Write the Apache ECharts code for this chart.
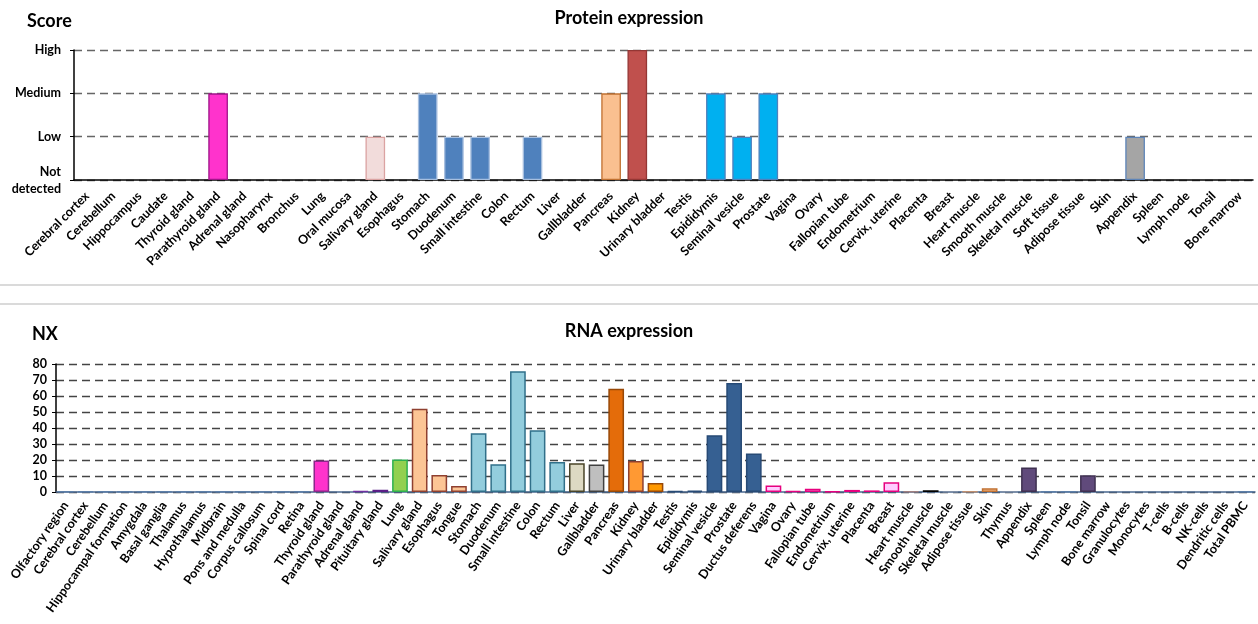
<!DOCTYPE html>
<html>
<head>
<meta charset="utf-8">
<script src="https://cdn.jsdelivr.net/npm/echarts@6/dist/echarts.min.js"></script>
<style>
html,body{margin:0;padding:0;background:#fff;}
#main{width:1258px;height:624px;}
</style>
</head>
<body>
<div id="main"></div>
<script>
// 蛋白表达 (top)
var proteinTissues=["Cerebral cortex","Cerebellum","Hippocampus","Caudate","Thyroid gland","Parathyroid gland","Adrenal gland","Nasopharynx","Bronchus","Lung","Oral mucosa","Salivary gland","Esophagus","Stomach","Duodenum","Small intestine","Colon","Rectum","Liver","Gallbladder","Pancreas","Kidney","Urinary bladder","Testis","Epididymis","Seminal vesicle","Prostate","Vagina","Ovary","Fallopian tube","Endometrium","Cervix, uterine","Placenta","Breast","Heart muscle","Smooth muscle","Skeletal muscle","Soft tissue","Adipose tissue","Skin","Appendix","Spleen","Lymph node","Tonsil","Bone marrow"];
var proteinScore=[0,0,0,0,0,2,0,0,0,0,0,1,0,2,1,1,0,1,0,0,2,3,0,0,2,1,2,0,0,0,0,0,0,0,0,0,0,0,0,0,1,0,0,0,0];
var scoreLabels=["Not\ndetected","Low","Medium","High"];

// RNA expression (bottom)
var rnaTissues=["Olfactory region","Cerebral cortex","Cerebellum","Hippocampal formation","Amygdala","Basal ganglia","Thalamus","Hypothalamus","Midbrain","Pons and medulla","Corpus callosum","Spinal cord","Retina","Thyroid gland","Parathyroid gland","Adrenal gland","Pituitary gland","Lung","Salivary gland","Esophagus","Tongue","Stomach","Duodenum","Small intestine","Colon","Rectum","Liver","Gallbladder","Pancreas","Kidney","Urinary bladder","Testis","Epididymis","Seminal vesicle","Prostate","Ductus deferens","Vagina","Ovary","Fallopian tube","Endometrium","Cervix, uterine","Placenta","Breast","Heart muscle","Smooth muscle","Skeletal muscle","Adipose tissue","Skin","Thymus","Appendix","Spleen","Lymph node","Tonsil","Bone marrow","Granulocytes","Monocytes","T-cells","B-cells","NK-cells","Dendritic cells","Total PBMC"];
var rnaNX=[0.3,0.3,0.3,0.3,0.3,0.3,0.3,0.3,0.3,0.3,0.3,0.3,0.3,19.7,0,0.5,1.4,20.3,52.0,10.6,3.7,36.7,17.4,75.5,38.6,18.7,18.0,17.2,64.5,19.3,5.6,0.5,0.8,35.5,68.2,24.0,4.1,0.6,2.0,0.4,1.3,1.0,6.1,0.3,1.1,0.3,0.3,2.3,0.3,15.3,0.3,0.3,10.4,0,0,0,0,0,0,0,0.4];
var nxTicks=[0,10,20,30,40,50,60,70,80];

// 颜色 (fill / border per category)
var proteinFill=["","","","","","#ff33cc","","","","","","#f2dcdb","","#4f81bd","#4f81bd","#4f81bd","","#4f81bd","","","#fac090","#c0504d","","","#00b0f0","#00b0f0","#00b0f0","","","","","","","","","","","","","","#a5a5a5","","","",""];
var proteinBorder=["","","","","","#a0148a","","","","","","#dba3a2","","#a7bfdf","#a7bfdf","#a7bfdf","","#a7bfdf","","","#c07030","#943634","","","#4f81bd","#4f81bd","#4f81bd","","","","","","","","","","","","","","#5d84b8","","","",""];
var brain="#95b3d7",brainB="#5d7fa8";
var rnaFill=[brain,brain,brain,brain,brain,brain,brain,brain,brain,brain,brain,brain,brain,"#ff33cc","","#a070c0","#7030a0","#92d050","#fcc595","#fcc595","#fcc595","#93cddd","#93cddd","#93cddd","#93cddd","#93cddd","#ddd9c3","#bfbfbf","#e46c0a","#ff9933","#ff9900","#366092","#366092","#366092","#366092","#366092","#ffccff","#ffccff","#ffccff","#ffccff","#ffccff","#ffccff","#ffccff","#c0a0a0","#404040","#a6b4c8","#e0b090","#fac090","#b0b8c8","#604a7b",brain,brain,"#604a7b","","","","","","","",brain];
var rnaBorder=[brainB,brainB,brainB,brainB,brainB,brainB,brainB,brainB,brainB,brainB,brainB,brainB,brainB,"#8a2a8a","","#7030a0","#5a1e86","#2db050","#8f4030","#8f4030","#8f4030","#31708a","#31708a","#31708a","#31708a","#31708a","#494429","#404040","#984807","#8f4030","#984807","#274a75","#274a75","#274a75","#274a75","#274a75","#e6007e","#e6007e","#e6007e","#e6007e","#e6007e","#e6007e","#e6007e","#a08080","#000000","#8090a8","#c09070","#c07030","#8090a8","#3f3151",brainB,brainB,"#3f3151","","","","","","","",brainB];

var font="Lato";
var chart=echarts.init(document.getElementById("main"));

var proteinData=proteinScore.map(function(v,i){
    return v>0 ? {value:v,itemStyle:{color:proteinFill[i],borderColor:proteinBorder[i],borderWidth:1.3}} : null;
});
var rnaData=rnaNX.map(function(v,i){
    return v>0 ? {value:v,itemStyle:{color:rnaFill[i],borderColor:rnaBorder[i],borderWidth:1.5}} : null;
});

option={
    animation:false,
    textStyle:{fontFamily:font},
    title:[
        {text:"Score",left:22,top:7,textStyle:{fontFamily:font,fontSize:18,fontWeight:"bold",color:"#000"}},
        {text:"Protein expression",left:"center",top:4,textStyle:{fontFamily:font,fontSize:18,fontWeight:"bold",color:"#000"}},
        {text:"NX",left:27,top:320,textStyle:{fontFamily:font,fontSize:18,fontWeight:"bold",color:"#000"}},
        {text:"RNA expression",left:"center",top:317,textStyle:{fontFamily:font,fontSize:18,fontWeight:"bold",color:"#000"}}
    ],
    grid:[
        {left:74,right:5,top:50,height:130,containLabel:false},
        {left:56,right:3,top:364,height:128,containLabel:false}
    ],
    xAxis:[
        {
            type:"category",gridIndex:0,data:proteinTissues,
            axisLine:{lineStyle:{color:"#000",width:1.5}},
            axisTick:{alignWithLabel:false,length:4,lineStyle:{color:"#000",width:1.3}},
            axisLabel:{interval:0,rotate:45,margin:14,fontSize:12.5,fontWeight:"bold",color:"#000",fontFamily:font}
        },
        {
            type:"category",gridIndex:1,data:rnaTissues,
            axisLine:{lineStyle:{color:"#4a6890",width:1.5}},
            axisTick:{length:4,lineStyle:{color:"#4a6890",width:1.3}},
            axisLabel:{interval:0,rotate:55,margin:11,fontSize:12.5,fontWeight:"bold",color:"#000",fontFamily:font}
        }
    ],
    yAxis:[
        {
            type:"value",gridIndex:0,min:0,max:3,interval:1,
            axisLine:{show:true,lineStyle:{color:"#000",width:1.5}},
            axisTick:{show:true,length:4,lineStyle:{color:"#000"}},
            splitLine:{lineStyle:{color:"#666",width:1.3,type:[8,5]}},
            axisLabel:{margin:13,fontSize:12.5,fontWeight:"bold",color:"#000",fontFamily:font,lineHeight:17,
                formatter:function(v){return scoreLabels[v];}}
        },
        {
            type:"value",gridIndex:1,min:nxTicks[0],max:nxTicks[nxTicks.length-1],interval:nxTicks[1]-nxTicks[0],
            axisLine:{show:true,lineStyle:{color:"#000",width:1.5}},
            axisTick:{show:true,length:4,lineStyle:{color:"#000"}},
            splitLine:{lineStyle:{color:"#444",width:1.3,type:[8,5]}},
            axisLabel:{margin:9,fontSize:12.5,fontWeight:"bold",color:"#000",fontFamily:font}
        }
    ],
    graphic:[
        {type:"rect",left:0,top:284,shape:{width:1258,height:2},style:{fill:"#dadada"},silent:true},
        {type:"rect",left:0,top:303,shape:{width:1258,height:2},style:{fill:"#dadada"},silent:true}
    ],
    series:[
        {type:"bar",name:"Protein expression",xAxisIndex:0,yAxisIndex:0,barCategoryGap:"25%",data:proteinData},
        {type:"bar",name:"RNA expression",xAxisIndex:1,yAxisIndex:1,barCategoryGap:"20%",data:rnaData}
    ]
};
chart.setOption(option);
</script>
</body>
</html>
